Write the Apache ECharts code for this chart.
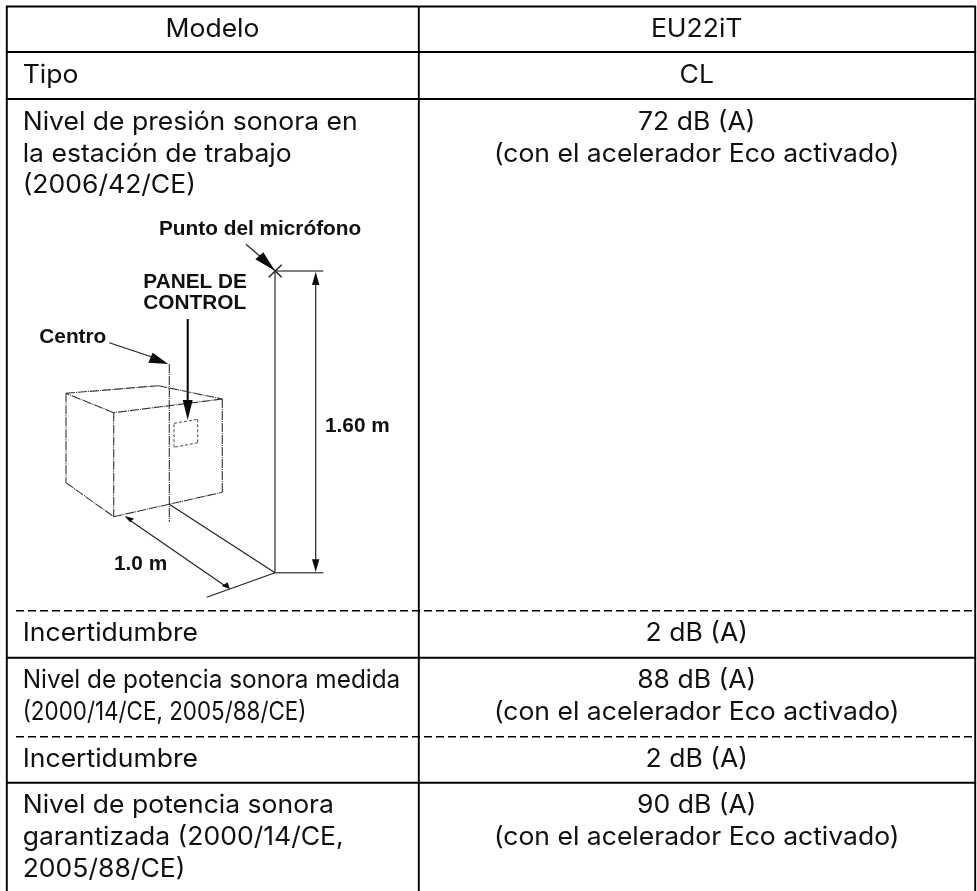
<!DOCTYPE html>
<html><head><meta charset="utf-8">
<style>html,body{margin:0;padding:0;background:#fff}#c{width:977px;height:891px}</style>
<script src="https://cdn.jsdelivr.net/npm/echarts@6/dist/echarts.min.js"></script>
</head><body><div id="c"></div>
<script>
// ---- table content ----
const headerLabel = 'Modelo';
const headerValue = 'EU22iT';
const rowLabels = [
  ['Tipo'],
  ['Nivel de presión sonora en', 'la estación de trabajo', '(2006/42/CE)'],
  ['Incertidumbre'],
  ['Nivel de potencia sonora medida', '(2000/14/CE, 2005/88/CE)'],
  ['Incertidumbre'],
  ['Nivel de potencia sonora', 'garantizada (2000/14/CE,', '2005/88/CE)']
];
const rowValues = [
  ['CL'],
  ['72 dB (A)', '(con el acelerador Eco activado)'],
  ['2 dB (A)'],
  ['88 dB (A)', '(con el acelerador Eco activado)'],
  ['2 dB (A)'],
  ['90 dB (A)', '(con el acelerador Eco activado)']
];
const headerBaseline = 37.3;
const rowBaselines = [[83], [130, 162, 193], [641.2], [687.5, 720.2], [767.2], [812.5, 844.7], [876.7]];
rowBaselines[5].push(rowBaselines.pop()[0]);
const columnEdges = [6.8, 418.8, 975.2];
const solidRules = [6.5, 52, 99, 657.8, 782.8];
const dashedRules = [610.7, 736.7];
const tableBottom = 891;
// ---- diagram labels ----
const diagramLabels = [
  ['Punto del micrófono', 159, 236],
  ['PANEL DE', 143.3, 289.5],
  ['CONTROL', 143.3, 310.5],
  ['Centro', 39.3, 344.5],
  ['1.60 m', 325, 433],
  ['1.0 m', 114, 571.3]
];
// ---- diagram geometry, in the same axis units as the table ----
const greySegments = [
  [275, 271, 275, 572.7], [275, 271, 323.3, 271], [275, 572.7, 323.3, 572.7]
];
const crossMark = [[268.7, 277.3, 281.7, 264.7], [268.7, 264.7, 281.7, 277.3]];
const thinSegments = [
  [246, 244.3, 262, 258], [315.7, 280, 315.7, 565], [109.3, 342.7, 155, 358],
  [169.3, 504.3, 275, 572.7], [275, 572.7, 206.7, 597.3], [128, 519, 226, 586.5]
];
const boldSegments = [[187.7, 319, 187.7, 402]];
const boxEdges = [
  [66, 393.3, 158.3, 385.7], [158.3, 385.7, 222.3, 399], [222.3, 399, 113.7, 412.7],
  [113.7, 412.7, 66, 393.3], [66, 393.3, 66, 482.7], [113.7, 412.7, 113.7, 516.7],
  [222.3, 399, 222.3, 492.3], [66, 482.7, 113.7, 516.7], [113.7, 516.7, 222.3, 492.3],
  [169.3, 364, 169.3, 522]
];
const panelOutline = [
  [174, 423.3, 197.7, 419.3], [197.7, 419.3, 197.7, 442.7],
  [197.7, 442.7, 174, 447.3], [174, 447.3, 174, 423.3]
];
const arrowHeads = [
  [[275, 270.7], [255.3, 259.3], [263.3, 252.3]],
  [[315.7, 271.7], [312, 285], [319.4, 285]],
  [[315.7, 572], [312, 559.3], [319.4, 559.3]],
  [[187.7, 420], [182.7, 400], [192.7, 400]],
  [[168.3, 364], [152.7, 352.7], [148.3, 362.7]],
  [[124.5, 516], [134, 518.5], [130, 522]],
  [[230, 589], [221.7, 586], [227.5, 582.3]]
];
// lines set tighter in the original; everything else runs slightly wider than the font
const lineWidthScale = { 'Nivel de potencia sonora medida': 0.955, '(2000/14/CE, 2005/88/CE)': 0.878 };
const BODY_WIDTH_SCALE = 1.04;

const TEXT = '#111';
const BODY_FONT = 'Inter, "Open Sans", sans-serif';
const LABEL_FONT = '"Liberation Sans", Arial, sans-serif';
const BODY_SIZE = 25.5, LABEL_SIZE = 20.8;

const bodyText = [[headerLabel, 212.5, headerBaseline, 'center'], [headerValue, 696.7, headerBaseline, 'center']];
rowLabels.forEach((lines, r) => lines.forEach((t, i) => bodyText.push([t, 22.7, rowBaselines[r][i], 'left'])));
rowValues.forEach((lines, r) => lines.forEach((t, i) => bodyText.push([t, 696.7, rowBaselines[r][i], 'center'])));

const ruleSolid = solidRules.map(y => [columnEdges[0] - 0.9, y, columnEdges[2] + 0.9, y])
  .concat(columnEdges.map(x => [x, solidRules[0], x, tableBottom]));
const ruleDashed = dashedRules.map(y => [16, y, columnEdges[2], y]);

function segmentSeries(name, data, style) {
  return {
    type: 'custom', name, coordinateSystem: 'cartesian2d', silent: true, clip: false,
    data: data, encode: { x: [0, 2], y: [1, 3] },
    renderItem: (p, api) => {
      const a = api.coord([api.value(0), api.value(1)]);
      const b = api.coord([api.value(2), api.value(3)]);
      return { type: 'line', shape: { x1: a[0], y1: a[1], x2: b[0], y2: b[1] }, style: Object.assign({ fill: null }, style) };
    }
  };
}
function textSeries(name, data, font, size, weight, shift, widthScale) {
  return {
    type: 'custom', name, coordinateSystem: 'cartesian2d', silent: true, clip: false,
    data: data.map(d => [d[1], d[2]]), encode: { x: 0, y: 1 },
    renderItem: (p, api) => {
      const d = data[p.dataIndex];
      const a = api.coord([api.value(0), api.value(1)]);
      return {
        type: 'text', x: a[0], y: a[1] - size * shift,
        scaleX: lineWidthScale[d[0]] || widthScale,
        style: {
          text: d[0], fill: TEXT, fontFamily: font, fontSize: size, fontWeight: weight,
          align: d[3] || 'left', verticalAlign: 'middle'
        }
      };
    }
  };
}
const arrowSeries = {
  type: 'custom', name: 'arrowheads', coordinateSystem: 'cartesian2d', silent: true, clip: false,
  data: arrowHeads.map(h => [h[0][0], h[0][1]]), encode: { x: 0, y: 1 },
  renderItem: (p, api) => ({
    type: 'polygon',
    shape: { points: arrowHeads[p.dataIndex].map(pt => api.coord(pt)) },
    style: { fill: '#0c0c0c' }
  })
};

const chart = echarts.init(document.getElementById('c'), null, { renderer: 'canvas' });
chart.setOption({
  animation: false,
  backgroundColor: '#fff',
  grid: { left: 0, right: 0, top: 0, bottom: 0 },
  xAxis: { type: 'value', min: 0, max: 977, show: false },
  yAxis: { type: 'value', min: 0, max: 891, inverse: true, show: false },
  series: [
    segmentSeries('table rules', ruleSolid, { stroke: '#000', lineWidth: 1.9 }),
    segmentSeries('dashed rules', ruleDashed, { stroke: '#000', lineWidth: 1.4, lineDash: [8, 4] }),
    segmentSeries('grey lines', greySegments, { stroke: '#555', lineWidth: 1.5 }),
    segmentSeries('cross', crossMark, { stroke: '#222', lineWidth: 1.5 }),
    segmentSeries('thin lines', thinSegments, { stroke: '#222', lineWidth: 1.2 }),
    segmentSeries('panel arrow', boldSegments, { stroke: '#000', lineWidth: 2 }),
    segmentSeries('box', boxEdges, { stroke: '#333', lineWidth: 1.1, lineDash: [9, 1, 1, 1] }),
    segmentSeries('panel', panelOutline, { stroke: '#333', lineWidth: 0.9, lineDash: [3, 2] }),
    arrowSeries,
    textSeries('table text', bodyText, BODY_FONT, BODY_SIZE, 'normal', 0.3, BODY_WIDTH_SCALE),
    textSeries('diagram labels', diagramLabels, LABEL_FONT, LABEL_SIZE, 'bold', 0.33, 1)
  ]
});
</script></body></html>
